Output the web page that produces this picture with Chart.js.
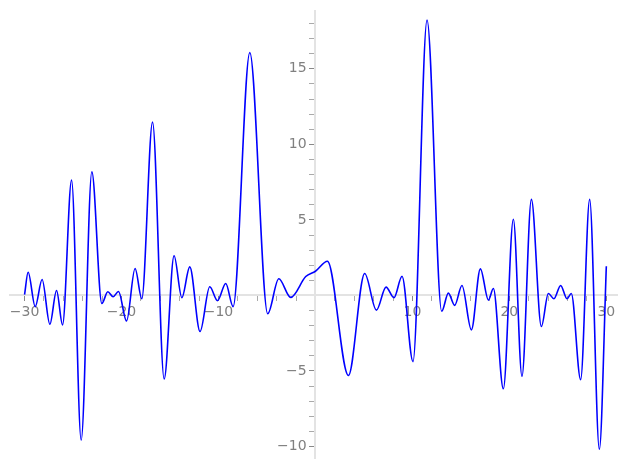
<!DOCTYPE html>
<html>
<head>
<meta charset="utf-8">
<script src="https://cdn.jsdelivr.net/npm/chart.js@4/dist/chart.umd.min.js"></script>
<style>
  body { margin: 0; background: #fff; }
  #wrap { width: 627px; height: 470px; position: relative; }
</style>
</head>
<body>
<div id="wrap"><canvas id="chartdiv"></canvas></div>
<script>
// x / y of the curve (peaks, troughs, a few shoulder points)
var xs = [-30, -29.63, -28.9, -28.19, -27.39, -26.7, -26.08, -25.15, -24.16, -23.06,
          -22.03, -21.41, -20.87, -20.31, -19.48, -18.6, -17.91, -16.8, -15.6, -14.58,
          -13.78, -12.96, -11.9, -10.9, -10.1, -9.25, -8.49, -6.77, -4.92, -3.78,
          -2.55, -1.0, 0.0, 1.24, 3.4, 5.08, 6.29, 7.28, 8.1, 8.93,
          10.06, 11.51, 13.02, 13.71, 14.36, 15.11, 16.08, 17.01, 17.84, 18.35,
          19.38, 20.41, 21.3, 22.27, 23.3, 24.02, 24.6, 25.29, 25.94, 26.39,
          27.35, 28.28, 29.28, 30];
var ys = [0.05, 1.53, -0.74, 1.05, -1.91, 0.33, -1.95, 7.63, -9.58, 8.18,
          -0.53, 0.24, -0.09, 0.26, -1.69, 1.78, -0.22, 11.47, -5.53, 2.63,
          -0.15, 1.89, -2.39, 0.57, -0.35, 0.79, -0.74, 16.07, -1.21, 1.1,
          -0.13, 1.25, 1.6, 2.26, -5.3, 1.45, -0.97, 0.55, -0.15, 1.27,
          -4.38, 18.22, -1.05, 0.15, -0.66, 0.66, -2.28, 1.76, -0.31, 0.46,
          -6.18, 5.04, -5.35, 6.36, -2.06, 0.13, -0.22, 0.66, -0.22, 0.13,
          -5.57, 6.36, -10.18, 1.93];
var xLabels = [-30, -20, -10, 10, 20, 30];
var yLabels = [-10, -5, 5, 10, 15];

var pts = [];
for (var i = 0; i < xs.length; i++) {
    pts.push({x: xs[i], y: ys[i]});
}

var fmt = function(v) {
    return v < 0 ? '\u2212' + Math.abs(v) : '' + v;
};

var ctx = document.getElementById('chartdiv').getContext('2d');
var chart = new Chart(ctx, {
    type: 'line',
    data: {
        datasets: [{
            data: pts,
            borderColor: '#0000ff',
            borderWidth: 1.6,
            pointRadius: 0,
            fill: false,
            cubicInterpolationMode: 'monotone'
        }]
    },
    options: {
        responsive: true,
        maintainAspectRatio: false,
        animation: false,
        layout: { padding: { left: 10, right: 10, top: 10, bottom: 10 } },
        plugins: { legend: { display: false }, tooltip: { enabled: false } },
        scales: {
            x: {
                type: 'linear',
                position: { y: 0 },
                min: -31.5,
                max: 31.1,
                border: { display: true, color: '#e3e3e3', width: 2 },
                grid: {
                    drawOnChartArea: false,
                    drawTicks: true,
                    tickLength: 5,
                    tickColor: function(c) {
                        return xLabels.indexOf(c.tick.value) >= 0 ? '#888' : '#aaa';
                    }
                },
                ticks: {
                    stepSize: 2,
                    autoSkip: false,
                    includeBounds: false,
                    maxRotation: 0,
                    padding: 4,
                    color: '#808080',
                    font: { family: 'DejaVu Sans', size: 14 },
                    callback: function(v) {
                        return xLabels.indexOf(v) >= 0 ? fmt(v) : '';
                    }
                }
            },
            y: {
                type: 'linear',
                position: { x: 0 },
                min: -10.8,
                max: 18.8,
                border: { display: true, color: '#e3e3e3', width: 2 },
                grid: {
                    drawOnChartArea: false,
                    drawTicks: true,
                    tickLength: 5,
                    tickColor: function(c) {
                        return yLabels.indexOf(c.tick.value) >= 0 ? '#888' : '#aaa';
                    }
                },
                ticks: {
                    stepSize: 1,
                    autoSkip: false,
                    includeBounds: false,
                    color: '#808080',
                    font: { family: 'DejaVu Sans', size: 14 },
                    // labels sit right on the axis here, trailing spaces push them left of the ticks
                    callback: function(v) {
                        return yLabels.indexOf(v) >= 0 ? fmt(v) + '  ' : '';
                    }
                }
            }
        }
    }
});
</script>
</body>
</html>
